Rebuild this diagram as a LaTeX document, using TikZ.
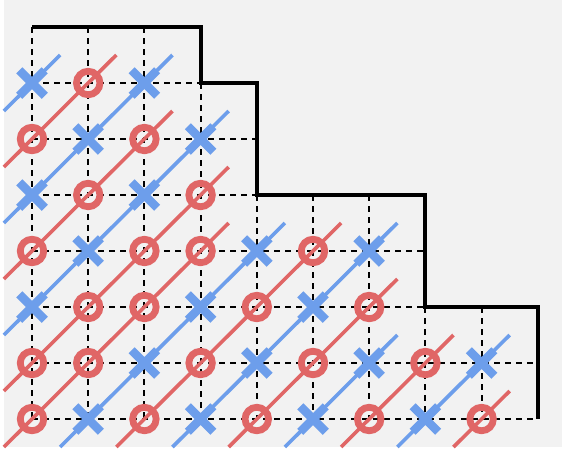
\documentclass[tikz,border=0pt]{standalone}
\usetikzlibrary{shapes.misc}
\definecolor{bg}{HTML}{F2F2F2}
\definecolor{mblue}{HTML}{6D9EEB}
\definecolor{mred}{HTML}{E06666}
\tikzset{
  gridline/.style={black, line width=2pt, dash pattern=on 6pt off 5pt},
  border/.style={black, line width=4pt, line join=miter},
  diagB/.style={mblue, line width=3.6pt},
  diagR/.style={mred, line width=3.6pt},
  xmark/.style={cross out, draw=mblue, line width=8.5pt, minimum size=17pt, inner sep=0pt},
  omark/.style={circle, draw=mred, line width=6.8pt, minimum size=23.5pt, inner sep=0pt},
}
\begin{document}
\begin{tikzpicture}[x=1pt,y=-1pt]
\useasboundingbox (0,0) rectangle (562,451);
\fill[white] (0,0) rectangle (562,451);
\fill[bg] (4,0) rectangle (562,447);
% lattice points
\foreach \i in {0,...,9} \foreach \j in {0,...,7}
  \coordinate (g\i-\j) at ({32+56.2*\i},{27+56*\j});
% dashed grid
\draw[gridline] (g0-1) -- (g3-1);
\draw[gridline] (g0-2) -- (g4-2);
\draw[gridline] (g0-3) -- (g4-3);
\draw[gridline] (g0-4) -- (g7-4);
\draw[gridline] (g0-5) -- (g7-5);
\draw[gridline] (g0-6) -- (g9-6);
\draw[gridline] (g0-7) -- (g9-7);
\foreach \i/\j in {0/0,1/0,2/0,3/1,4/3,5/3,6/3,7/5,8/5}
  \draw[gridline] (g\i-\j) -- (g\i-7);
% outline
\draw[border] (g0-0) -- (g3-0) -- (g3-1) -- (g4-1) -- (g4-3) -- (g7-3) -- (g7-5) -- (g9-5) -- (g9-7);
% diagonals
\foreach \d/\ti/\tj/\bi/\bj/\c in {1/0/1/0/1/B,2/1/1/0/2/R,3/2/1/0/3/B,4/2/2/0/4/R,5/3/2/0/5/B,6/3/3/0/6/R,7/3/4/0/7/R,8/4/4/1/7/B,9/5/4/2/7/R,10/6/4/3/7/B,11/6/5/4/7/R,12/6/6/5/7/B,13/7/6/6/7/R,14/8/6/7/7/B,15/8/7/8/7/R}{
  \path (g\ti-\tj) ++(28.1,-28) coordinate (a\d);
  \path (g\bi-\bj) ++(-28.1,28) coordinate (b\d);
  \draw[diag\c] (a\d) -- (b\d);
}
% marks
\foreach \i/\r/\t in {0/1/xmark,1/1/omark,2/1/xmark,
  0/2/omark,1/2/xmark,2/2/omark,3/2/xmark,
  0/3/xmark,1/3/omark,2/3/xmark,3/3/omark,
  0/4/omark,1/4/xmark,2/4/omark,3/4/omark,4/4/xmark,5/4/omark,6/4/xmark,
  0/5/xmark,1/5/omark,2/5/omark,3/5/xmark,4/5/omark,5/5/xmark,6/5/omark,
  0/6/omark,1/6/omark,2/6/xmark,3/6/omark,4/6/xmark,5/6/omark,6/6/xmark,7/6/omark,8/6/xmark,
  0/7/omark,1/7/xmark,2/7/omark,3/7/xmark,4/7/omark,5/7/xmark,6/7/omark,7/7/xmark,8/7/omark}
  \node[\t] (m\i-\r) at (g\i-\r) {};
\end{tikzpicture}
\end{document}
